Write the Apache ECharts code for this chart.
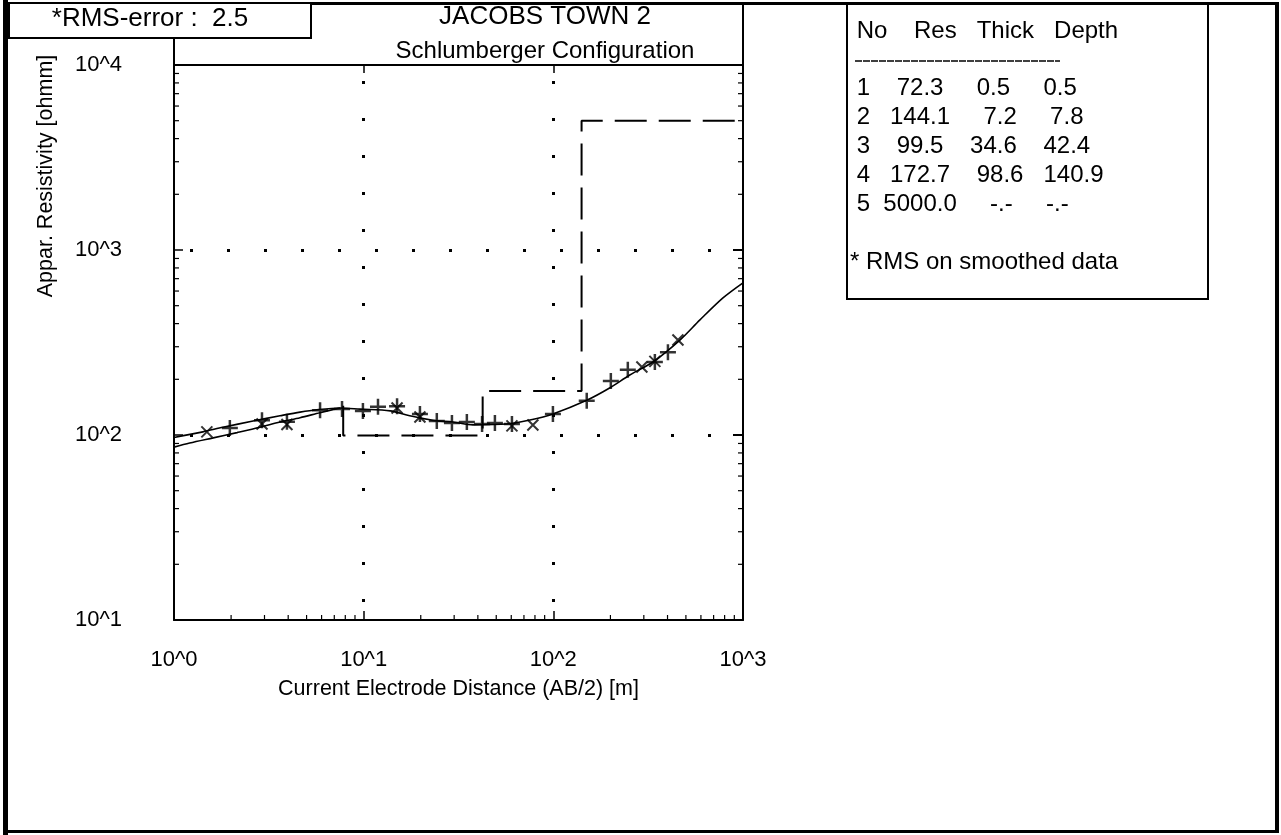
<!DOCTYPE html>
<html><head><meta charset="utf-8">
<script src="https://cdn.jsdelivr.net/npm/echarts@6/dist/echarts.min.js"></script>
<style>html,body{margin:0;padding:0;background:#fff}#c{width:1281px;height:835px}</style>
</head><body><div id="c"></div>
<script>
// ---- text ----
const titleLines = ['JACOBS TOWN 2', 'Schlumberger Configuration'];
const rmsError = 2.5;
const xAxisName = 'Current Electrode Distance (AB/2) [m]';
const yAxisName = 'Appar. Resistivity [ohmm]';
const tableHeader = ['No', 'Res', 'Thick', 'Depth'];
const tableNote = '* RMS on smoothed data';

// ---- axes ----
const xMin = 1, xMax = 1000;
const yMin = 10, yMax = 10000;
const minorMult = [2, 3, 4, 5, 6, 7, 8, 9];

// ---- layered model ----
const layerNo = [1, 2, 3, 4, 5];
const layerRes = [72.3, 144.1, 99.5, 172.7, 5000.0];
const layerThick = [0.5, 7.2, 34.6, 98.6, null];
const layerDepth = [0.5, 7.8, 42.4, 140.9, null];

// ---- calculated curve ----
const calcX = [1.0, 1.42, 1.81, 2.61, 3.62, 4.62, 5.67, 7.5, 9.6, 13.8, 17.5, 23.2, 29.6, 37.7, 56.9, 75.3, 99.5, 150, 199, 253, 335, 465, 593, 784, 1000];
const calcY = [97, 104, 110, 119, 127, 133, 137, 140, 138, 135, 127, 120, 117.5, 113.5, 114.6, 120.5, 130, 154, 180, 211, 248, 326, 419, 551, 665];

// ---- second (lower) curve at short spacings ----
const lowX = [1.0, 1.21, 1.61, 2.15, 2.84, 3.62, 4.62, 5.88, 7.5];
const lowY = [86, 90.5, 96.5, 103, 110, 117.5, 124, 132, 140];

// ---- field data (+) ----
const fieldX = [1.97, 2.91, 3.94, 5.89, 7.69, 9.91, 11.9, 15.0, 19.8, 24.3, 29.2, 35.0, 42.1, 49.2, 60.5, 99.5, 150, 201, 247, 343, 402];
const fieldY = [109, 120, 118, 136, 138, 135, 142, 143, 130, 119, 116, 117.5, 114.6, 116, 114.6, 130, 153, 196, 225, 248, 280];

// ---- smoothed data (x) ----
const smoothX = [1.49, 2.91, 3.94, 15.0, 19.8, 60.5, 78.0, 293, 343, 454];
const smoothY = [104, 114.6, 114, 140, 125, 112, 113.3, 233, 250, 326];

// ---------------- build ----------------
const FONT = '"Liberation Sans", Arial, sans-serif';
const zip = (a, b) => a.map((v, i) => [v, b[i]]);

// step line of the layered model (from the bottom of layer 2 downward)
const steps = [[layerDepth[1], layerRes[1]]];
for (let i = 1; i < layerRes.length - 1; i++) {
  steps.push([layerDepth[i], layerRes[i + 1]]);
  if (i + 1 < layerRes.length - 1) steps.push([layerDepth[i + 1], layerRes[i + 1]]);
}
steps.push([xMax, layerRes[layerRes.length - 1]]);

function minorVals(lo, hi) {
  const out = [];
  for (let d = lo; d < hi; d *= 10) for (const m of minorMult) out.push(d * m);
  return out;
}
const tickData = [];
minorVals(yMin, yMax).forEach(v => { tickData.push([xMin, v, 0]); tickData.push([xMax, v, 1]); });
minorVals(xMin, xMax).forEach(v => { tickData.push([v, yMin, 2]); });

function pad(s, n) { s = String(s); while (s.length < n) s = ' ' + s; return s; }
const fmt = v => v == null ? '-.-' : v.toFixed(1);
const headerLine = ' ' + tableHeader[0] + pad(tableHeader[1], 7) + pad(tableHeader[2], 8) + pad(tableHeader[3], 8);
const rowLines = layerNo.map((n, i) => ' ' + n + pad(fmt(layerRes[i]), 8) + pad(fmt(layerThick[i]), 8) + pad(fmt(layerDepth[i]), 8));

const txt = (x, y, text, extra, z) => ({
  type: 'text', x, y, z: z || 100,
  style: Object.assign({ text, fill: '#000', font: '24px ' + FONT, textAlign: 'left', textVerticalAlign: 'middle' }, extra || {})
});

const graphics = [
  // outer frame
  { type: 'rect', z: 100, shape: { x: 3, y: 0, width: 5, height: 835 }, style: { fill: '#000' } },
  { type: 'rect', z: 100, shape: { x: 3, y: 2, width: 1276, height: 3 }, style: { fill: '#000' } },
  { type: 'rect', z: 100, shape: { x: 1275, y: 2, width: 4, height: 831 }, style: { fill: '#000' } },
  { type: 'rect', z: 100, shape: { x: 3, y: 830, width: 1276, height: 3 }, style: { fill: '#000' } },
  // plot column lines above the plot
  { type: 'line', z: 100, shape: { x1: 174, y1: 4, x2: 174, y2: 65 }, style: { stroke: '#000', lineWidth: 2 } },
  { type: 'line', z: 100, shape: { x1: 743, y1: 4, x2: 743, y2: 65 }, style: { stroke: '#000', lineWidth: 2 } },
  // RMS box (covers the column line)
  { type: 'rect', z: 110, shape: { x: 9, y: 3, width: 302, height: 35 }, style: { fill: '#fff', stroke: '#000', lineWidth: 2 } },
  txt(150, 19, '*RMS-error :  ' + rmsError.toFixed(1), { textAlign: 'center', font: '26px ' + FONT }, 111),
  // titles
  txt(545, 17, titleLines[0], { textAlign: 'center', font: '26px ' + FONT }),
  txt(545, 51, titleLines[1], { textAlign: 'center' }),
  // y axis name
  { type: 'text', z: 100, x: 46, y: 176, rotation: Math.PI / 2,
    style: { text: yAxisName, fill: '#000', font: '21.5px ' + FONT, textAlign: 'center', textVerticalAlign: 'middle' } },
  // table box
  { type: 'rect', z: 100, shape: { x: 847, y: 4, width: 361, height: 295 }, style: { fill: 'none', stroke: '#000', lineWidth: 2 } },
  txt(850, 31, headerLine),
  { type: 'line', z: 100, shape: { x1: 855, y1: 61, x2: 1060, y2: 61 }, style: { stroke: '#000', lineWidth: 1.5, lineDash: [7, 1] } },
  txt(850, 262, tableNote)
];
rowLines.forEach((r, i) => graphics.push(txt(850, 88 + i * 29.2, r)));

const plusPath = 'path://M5,0L5,10M0,5L10,5';
const crossPath = 'path://M0,0L10,10M10,0L0,10';

const logLabel = v => '10^' + Math.round(Math.log10(v));

const chart = echarts.init(document.getElementById('c'), null, { renderer: 'canvas' });
chart.setOption({
  animation: false,
  backgroundColor: '#fff',
  grid: { left: 174, top: 65, right: 1281 - 743, bottom: 835 - 620, outerBoundsMode: 'none', containLabel: false },
  xAxis: [
    { type: 'log', logBase: 10, min: xMin, max: xMax, position: 'bottom',
      name: xAxisName, nameLocation: 'middle', nameGap: 58,
      nameTextStyle: { color: '#000', fontSize: 21.5, fontFamily: FONT },
      axisLine: { show: true, lineStyle: { color: '#000', width: 2 } },
      axisTick: { show: true, inside: true, length: 9, lineStyle: { color: '#000', width: 1.5 } },
      axisLabel: { color: '#000', fontSize: 22, fontFamily: FONT, margin: 29, formatter: logLabel },
      splitLine: { show: true, showMinLine: false, showMaxLine: false, lineStyle: { color: '#000', width: 3, type: [3, 34], dashOffset: 21 } } },
    { type: 'log', logBase: 10, min: xMin, max: xMax, position: 'top',
      axisLine: { show: true, lineStyle: { color: '#000', width: 2 } },
      axisTick: { show: true, inside: true, length: 8, lineStyle: { color: '#000', width: 1.5 } },
      axisLabel: { show: false }, splitLine: { show: false } }
  ],
  yAxis: [
    { type: 'log', logBase: 10, min: yMin, max: yMax, position: 'left',
      axisLine: { show: true, lineStyle: { color: '#000', width: 2 } },
      axisTick: { show: true, inside: true, length: 9, lineStyle: { color: '#000', width: 1.5 } },
      axisLabel: { color: '#000', fontSize: 22, fontFamily: FONT, margin: 52, formatter: logLabel },
      splitLine: { show: true, showMinLine: false, showMaxLine: false, lineStyle: { color: '#000', width: 3, type: [3, 34], dashOffset: 21 } } },
    { type: 'log', logBase: 10, min: yMin, max: yMax, position: 'right',
      axisLine: { show: true, lineStyle: { color: '#000', width: 2 } },
      axisTick: { show: true, inside: true, length: 10, lineStyle: { color: '#000', width: 2 } },
      axisLabel: { show: false }, splitLine: { show: false } }
  ],
  graphic: graphics,
  series: [
    { type: 'line', data: steps, symbol: 'none', z: 3,
      lineStyle: { color: '#000', width: 2, type: [32, 12] } },
    { type: 'line', data: zip(calcX, calcY), symbol: 'none', smooth: 0.3, z: 4,
      lineStyle: { color: '#000', width: 1.6 } },
    { type: 'line', data: zip(lowX, lowY), symbol: 'none', smooth: 0.3, z: 4,
      lineStyle: { color: '#000', width: 1.6 } },
    { type: 'scatter', data: zip(fieldX, fieldY), symbol: plusPath, symbolSize: 16, z: 5,
      itemStyle: { color: 'none', borderColor: '#000', borderWidth: 2.5 } },
    { type: 'scatter', data: zip(smoothX, smoothY), symbol: crossPath, symbolSize: 11, z: 5,
      itemStyle: { color: 'none', borderColor: '#000', borderWidth: 2 } },
    { type: 'custom', data: tickData, z: 6, clip: false, silent: true,
      encode: { x: 0, y: 1 },
      renderItem: function (params, api) {
        const p = api.coord([api.value(0), api.value(1)]);
        const k = api.value(2), L = 5;
        let x2 = p[0], y2 = p[1];
        if (k === 0) x2 += L; else if (k === 1) x2 -= L; else if (k === 2) y2 -= L; else y2 += L;
        return { type: 'line', shape: { x1: p[0], y1: p[1], x2: x2, y2: y2 }, style: { stroke: '#000', lineWidth: 1.2 } };
      } }
  ]
});
</script>
</body></html>
